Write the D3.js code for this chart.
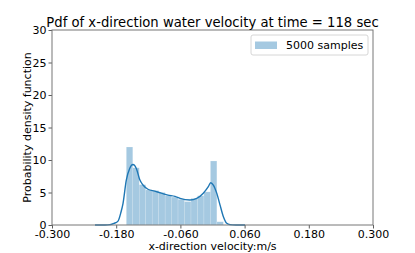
<!DOCTYPE html>
<html>
<head>
<meta charset="utf-8">
<script src="https://cdn.jsdelivr.net/npm/d3@7"></script>
<style>
  body { margin: 0; background: #fff; }
  text { font-family: "DejaVu Sans", sans-serif; fill: #000; }
</style>
</head>
<body>
<div id="canvas"></div>
<script>
// chart size and margins
var cv = {
  'width': 415,
  'height': 253,
  'top': 30,
  'right': 42,
  'bottom': 28,
  'left': 52
};

// histogram bins (left edge) and density heights
var binLeft = [-0.1611, -0.1490, -0.1369, -0.1248, -0.1127, -0.1006, -0.0885, -0.0765,
  -0.0644, -0.0523, -0.0402, -0.0281, -0.0160, -0.0039, 0.0082];
var binWidth = 0.0121;
var binHeight = [12.0, 8.8, 6.2, 5.4, 5.3, 5.0, 4.5, 4.3, 3.95, 3.6, 4.1, 4.5, 5.1, 9.85, 0.5];

// kde curve
var kdeX = [-0.2196, -0.2009, -0.1916, -0.1841, -0.1766, -0.1710, -0.1673, -0.1611, -0.1548,
  -0.1486, -0.1424, -0.1361, -0.1299, -0.1206, -0.1080, -0.0957, -0.0832, -0.0701, -0.0607,
  -0.0421, -0.0295, -0.0172, -0.0078, -0.0034, 0.0015, 0.0079, 0.0140, 0.0202, 0.0266,
  0.0327, 0.0439, 0.0607];
var kdeY = [0.0, 0.01, 0.05, 0.25, 0.6, 2.0, 3.3, 6.9, 8.7,
  9.3, 8.7, 7.0, 6.15, 5.5, 5.2, 4.9, 4.6, 4.4, 4.1,
  3.85, 4.1, 4.9, 5.9, 6.5, 6.15, 4.9, 3.1, 1.3, 0.26,
  0.05, 0.01, 0.0];

var xTicks = [-0.3, -0.18, -0.06, 0.06, 0.18, 0.3];
var yTicks = [0, 5, 10, 15, 20, 25, 30];

var titleText = 'Pdf of x-direction water velocity at time = 118 sec';
var xLabel = 'x-direction velocity:m/s';
var yLabel = 'Probability density function';
var legendText = '5000 samples';

var blue = '#1f77b4';

var x = d3.scaleLinear()
  .domain([-0.3, 0.3])
  .range([cv.left, cv.width - cv.right]);

var y = d3.scaleLinear()
  .domain([0, 30])
  .range([cv.height - cv.bottom, cv.top]);

var svg = d3.select('#canvas').append('svg')
  .attr('width', cv.width)
  .attr('height', cv.height);

// bars
svg.selectAll('.bar')
  .data(binLeft)
  .enter().append('rect')
  .attr('class', 'bar')
  .attr('x', d => x(d))
  .attr('width', d => x(d + binWidth) - x(d))
  .attr('y', (d, i) => y(binHeight[i]))
  .attr('height', (d, i) => y(0) - y(binHeight[i]))
  .attr('fill', blue)
  .attr('fill-opacity', 0.4)
  .attr('stroke', '#ffffff')
  .attr('stroke-opacity', 0.35)
  .attr('stroke-width', 0.5);

// kde line
var line = d3.line()
  .x(d => x(d[0]))
  .y(d => y(d[1]))
  .curve(d3.curveMonotoneX);

svg.append('path')
  .datum(kdeX.map((v, i) => [v, kdeY[i]]))
  .attr('d', line)
  .attr('fill', 'none')
  .attr('stroke', blue)
  .attr('stroke-width', 1.4);

// axes
var xAxis = svg.append('g')
  .attr('transform', 'translate(0,' + y(0) + ')')
  .call(d3.axisBottom(x).tickValues(xTicks).tickSize(3.5).tickPadding(2)
    .tickFormat(d => d3.format('.3f')(d).replace('\u2212', '-')));

var yAxis = svg.append('g')
  .attr('transform', 'translate(' + x(-0.3) + ',0)')
  .call(d3.axisLeft(y).tickValues(yTicks).tickSize(3.5).tickPadding(2));

[xAxis, yAxis].forEach(function(g) {
  g.select('.domain').remove();
  g.selectAll('line').attr('stroke', '#333').attr('stroke-width', 0.8);
  g.selectAll('text').style('font-size', '11px').style('font-family', 'DejaVu Sans');
});

// frame
svg.append('rect')
  .attr('x', x(-0.3))
  .attr('y', y(30))
  .attr('width', x(0.3) - x(-0.3))
  .attr('height', y(0) - y(30))
  .attr('fill', 'none')
  .attr('stroke', '#777')
  .attr('stroke-width', 1);

// labels
svg.append('text')
  .attr('x', (x(-0.3) + x(0.3)) / 2)
  .attr('y', 27)
  .attr('text-anchor', 'middle')
  .style('font-size', '13.2px')
  .text(titleText);

svg.append('text')
  .attr('x', (x(-0.3) + x(0.3)) / 2)
  .attr('y', 250)
  .attr('text-anchor', 'middle')
  .style('font-size', '11px')
  .text(xLabel);

svg.append('text')
  .attr('transform', 'translate(31,' + ((y(0) + y(30)) / 2) + ') rotate(-90)')
  .attr('text-anchor', 'middle')
  .style('font-size', '11px')
  .text(yLabel);

// legend
var lg = svg.append('g').attr('transform', 'translate(251,35)');
lg.append('rect')
  .attr('width', 117)
  .attr('height', 20)
  .attr('rx', 2)
  .attr('fill', '#fff')
  .attr('fill-opacity', 0.8)
  .attr('stroke', '#ccc')
  .attr('stroke-width', 0.8);
lg.append('rect')
  .attr('x', 4)
  .attr('y', 6.5)
  .attr('width', 22)
  .attr('height', 7.5)
  .attr('fill', blue)
  .attr('fill-opacity', 0.4);
lg.append('text')
  .attr('x', 35)
  .attr('y', 14)
  .style('font-size', '11px')
  .text(legendText);
</script>
</body>
</html>
